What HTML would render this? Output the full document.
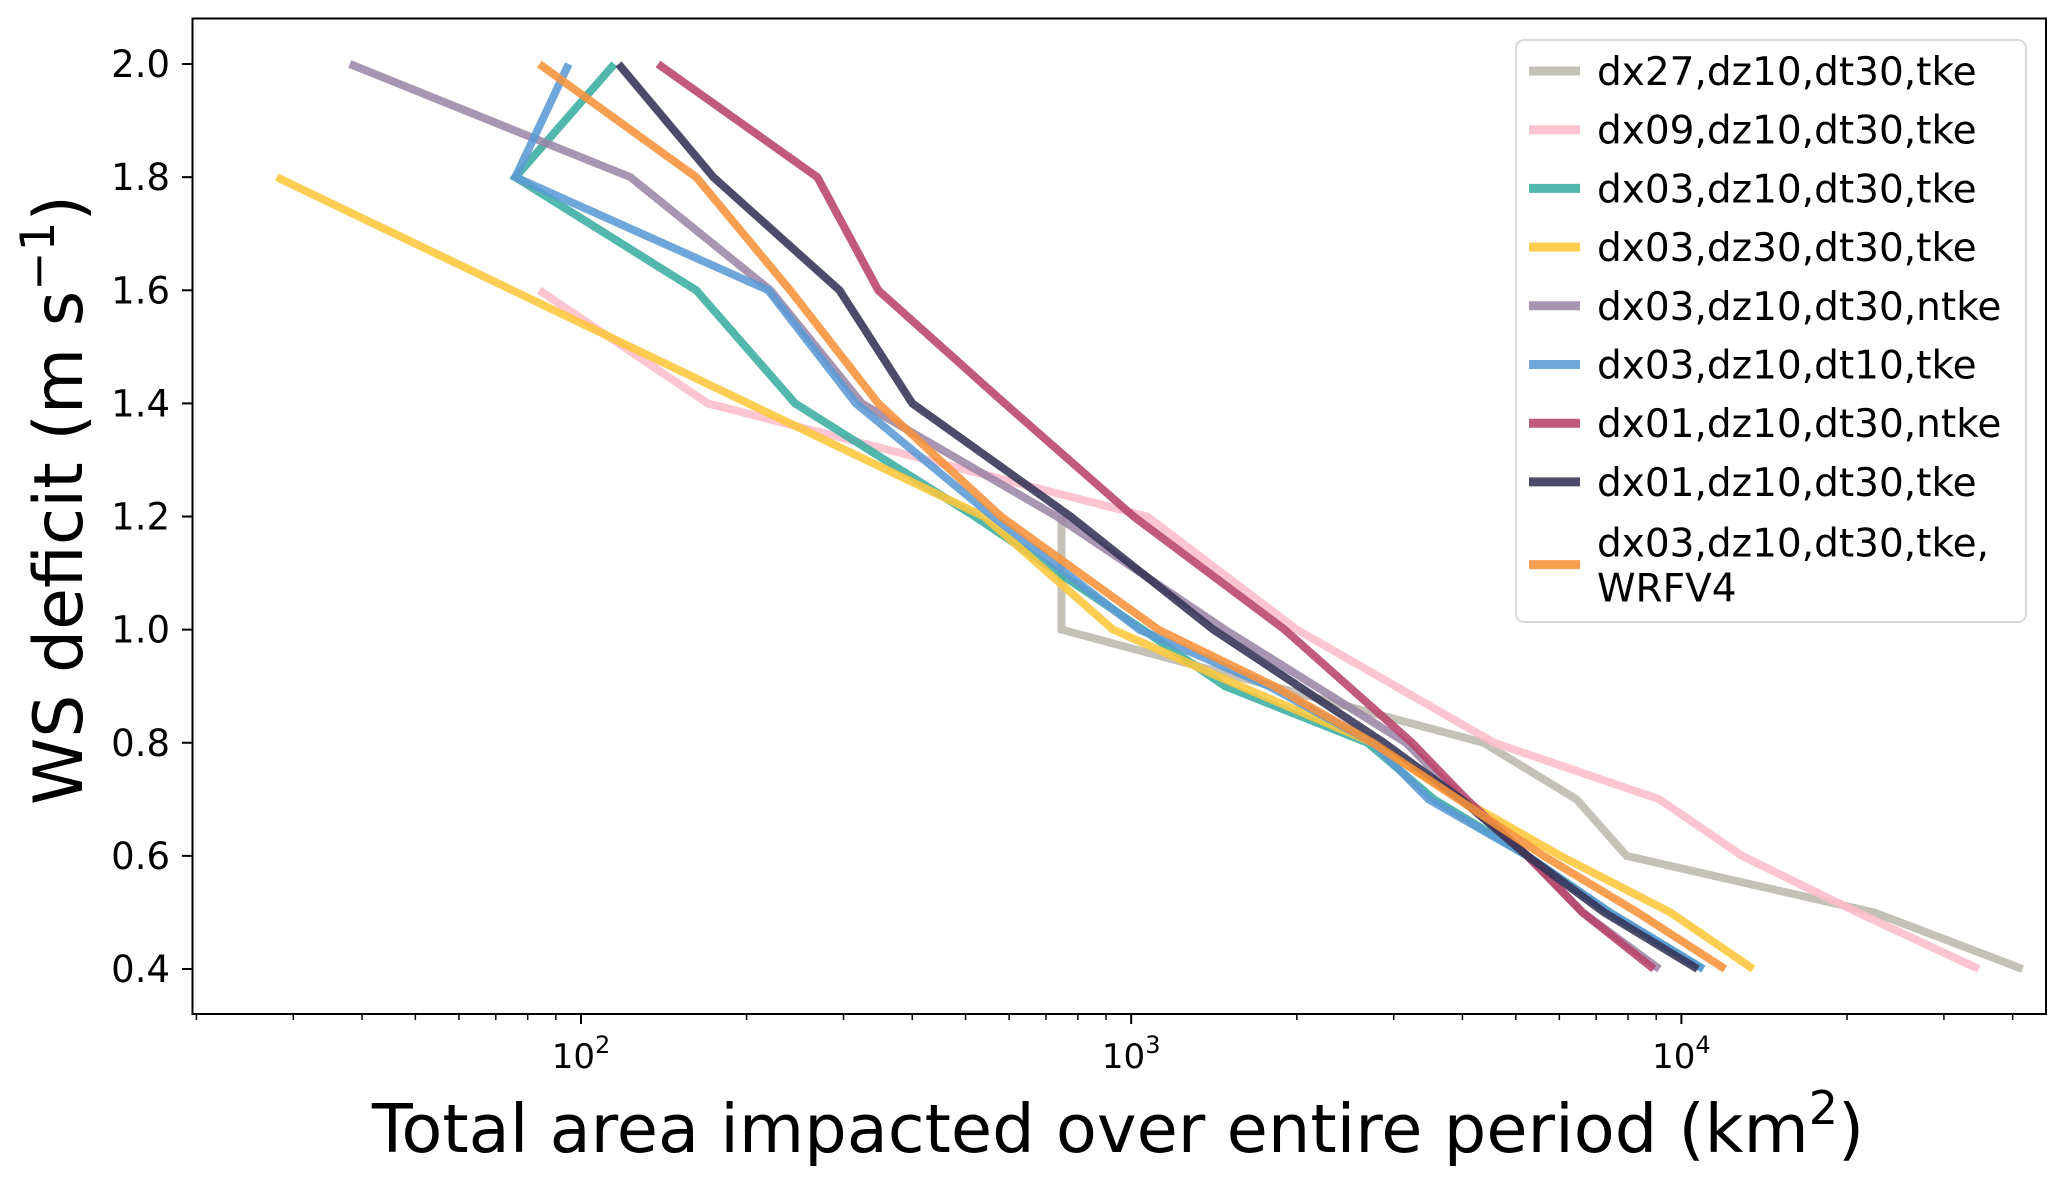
<!DOCTYPE html>
<html><head><meta charset="utf-8"><style>
body{margin:0;background:#fff}
svg{display:block;font-family:"DejaVu Sans","Liberation Sans",sans-serif}
</style></head><body>
<svg id="chart" width="2067" height="1182" viewBox="0 0 2067 1182" xmlns="http://www.w3.org/2000/svg">
<g id="lines"></g>
<rect x="192.5" y="18.5" width="1853.5" height="995.5" fill="none" stroke="#000" stroke-width="2"/>
<g id="axes"></g>
<g id="legend"></g>
<text x="1118" y="1152" font-size="67" text-anchor="middle">Total area impacted over entire period (km<tspan font-size="46" dy="-28">2</tspan><tspan dy="28">)</tspan></text>
<text transform="translate(82,500) rotate(-90)" font-size="68" text-anchor="middle">WS deficit (m s<tspan font-size="47" dy="-28">−1</tspan><tspan dy="28">)</tspan></text>
</svg>
<script>
const seriesNames=["dx27,dz10,dt30,tke","dx09,dz10,dt30,tke","dx03,dz10,dt30,tke","dx03,dz30,dt30,tke","dx03,dz10,dt30,ntke","dx03,dz10,dt10,tke","dx01,dz10,dt30,ntke","dx01,dz10,dt30,tke","dx03,dz10,dt30,tke,|WRFV4"];
const seriesColors=["#bcb8ae","#fdbccb","#3aada0","#fdc73a","#9c86a6","#5b9bd5","#b9436b","#333355","#f8923a"];
const gray_y=[1.2,1.0,0.8,0.7,0.6,0.5,0.4];
const gray_x=[747,747,4370,6450,7950,22400,41700];
const pink_y=[1.6,1.4,1.2,1.0,0.8,0.7,0.6,0.5,0.4];
const pink_x=[84,170,1070,2000,4570,9120,12900,20900,34700];
const teal_y=[2.0,1.8,1.6,1.4,1.2,1.0,0.9,0.8,0.7,0.6,0.5,0.4];
const teal_x=[115,76,162,245,520,1050,1480,2690,3550,5250,7410,10960];
const yellow_y=[1.8,1.2,1.0,0.9,0.8,0.7,0.6,0.5,0.4];
const yellow_x=[28,540,927,1580,2750,3980,6030,9550,13500];
const purple_y=[2.0,1.8,1.6,1.4,1.2,1.0,0.8,0.7,0.6,0.5,0.4];
const purple_x=[38,123,221,324,733,1480,3160,3980,5250,6610,9120];
const blue_y=[2.0,1.8,1.6,1.4,1.2,1.0,0.9,0.8,0.7,0.6,0.5,0.4];
const blue_x=[95,76,219,316,560,1035,1780,2750,3470,5250,7410,10960];
const red_y=[2.0,1.8,1.6,1.4,1.2,1.0,0.8,0.7,0.6,0.5,0.4];
const red_x=[138,269,347,589,1010,1900,3240,4070,5250,6610,8910];
const navy_y=[2.0,1.8,1.6,1.4,1.2,1.0,0.8,0.7,0.6,0.5,0.4];
const navy_x=[117,174,295,400,776,1410,2880,3980,5250,7240,10700];
const orange_y=[2.0,1.8,1.6,1.4,1.2,1.0,0.9,0.8,0.6,0.5,0.4];
const orange_x=[84,162,240,347,580,1120,1820,2750,5620,8320,12000];
const yTicks=[0.4,0.6,0.8,1.0,1.2,1.4,1.6,1.8,2.0];
const yTickLabels=["0.4","0.6","0.8","1.0","1.2","1.4","1.6","1.8","2.0"];
const xMajor=[100,1000,10000];
const xMajorExp=["2","3","4"];

const NS="http://www.w3.org/2000/svg";
function X(v){return 581+(Math.log10(v)-2)*550.2;}
function Y(v){return 969-(v-0.4)*565.6;}
function mk(t,a,p){const e=document.createElementNS(NS,t);for(const k in a)e.setAttribute(k,a[k]);p.appendChild(e);return e;}
const allX=[gray_x,pink_x,teal_x,yellow_x,purple_x,blue_x,red_x,navy_x,orange_x];
const allY=[gray_y,pink_y,teal_y,yellow_y,purple_y,blue_y,red_y,navy_y,orange_y];
const gl=document.getElementById('lines');
allX.forEach((xs,i)=>{
  const pts=xs.map((x,j)=>X(x).toFixed(1)+','+Y(allY[i][j]).toFixed(1)).join(' ');
  const pl=mk('polyline',{points:pts,fill:'none',stroke:seriesColors[i],'stroke-width':8,'stroke-opacity':0.88,'stroke-linejoin':'miter'},gl);
  
  
});
const ga=document.getElementById('axes');
yTicks.forEach((t,i)=>{
  const l=mk('line',{x1:182,x2:192.5,y1:Y(t),y2:Y(t),stroke:'#000','stroke-width':2},ga);
  
  
  const tx=mk('text',{x:170,y:Y(t)+13,'font-size':37,'text-anchor':'end'},ga);
  
  
  tx.textContent=yTickLabels[i];
});
for(let d=10;d<=10000;d*=10){for(let m=2;m<=9;m++){const v=d*m;const px=X(v);if(px<193||px>2045)continue;
  const l=mk('line',{x1:px,x2:px,y1:1014,y2:1020,stroke:'#000','stroke-width':1.5},ga);
  
  }}
xMajor.forEach((v,i)=>{
  const l=mk('line',{x1:X(v),x2:X(v),y1:1014,y2:1024,stroke:'#000','stroke-width':2},ga);
  
  
  const tx=mk('text',{x:X(v),y:1068,'font-size':34,'text-anchor':'middle'},ga);
  
  
  tx.innerHTML='10<tspan font-size="24" dy="-15">'+xMajorExp[i]+'</tspan>';
});
const lg=document.getElementById('legend');
const box=mk('rect',{x:1516,y:40,width:510,height:582,rx:8,fill:'#fff','fill-opacity':0.85,stroke:'#d8d8d8','stroke-width':2},lg);


seriesNames.forEach((n,i)=>{
  const cy=71+i*58.7+(i===8?24:0);
  const l=mk('line',{x1:1529,x2:1580,y1:cy,y2:cy,stroke:seriesColors[i],'stroke-width':9,'stroke-opacity':0.88},lg);
  
  
  const parts=n.split('|');
  parts.forEach((p,k)=>{
    const yy=(parts.length>1?cy-22+k*45:cy)+14;
    const tx=mk('text',{x:1597,y:yy,'font-size':39},lg);
    
    
    tx.textContent=p;
  });
});
</script>
</body></html>
